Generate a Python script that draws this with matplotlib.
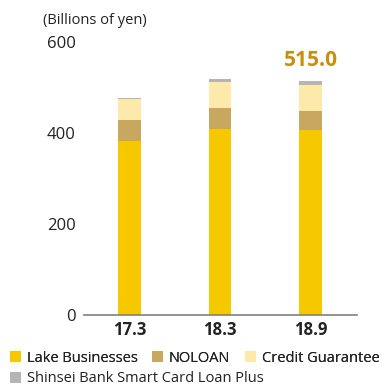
import matplotlib
matplotlib.use("Agg")

import matplotlib.pyplot as plt
import numpy as np

plt.rcParams["font.family"] = ["Open Sans", "DejaVu Sans"]

PERIODS = ["17.3", "18.3", "18.9"]

LAKE = [382, 408, 406]
NOLOAN = [46, 46, 43]
CREDIT = [46, 57, 57]
SHINSEI = [4, 7, 9]

SERIES = ["Lake Businesses", "NOLOAN", "Credit Guarantee",
          "Shinsei Bank Smart Card Loan Plus"]
COLORS = ["#F5C800", "#C8A85E", "#FDE9AA", "#B5B5B5"]

TOTAL_LABEL = "515.0"
Y_TICKS = [0, 200, 400, 600]


fig = plt.figure(figsize=(3.82, 3.85), dpi=100)
ax = fig.add_axes([84 / 382, 1 - 315 / 385, 273 / 382, 273 / 385])

x = np.arange(len(PERIODS))
bottom = np.zeros(len(PERIODS))
handles = []
for values, name, color in zip([LAKE, NOLOAN, CREDIT, SHINSEI], SERIES, COLORS):
    bars = ax.bar(x, values, width=0.254, bottom=bottom, color=color,
                  label=name, linewidth=0)
    handles.append(bars)
    bottom += np.array(values)

ax.text(x[-1], bottom[-1] + 21, TOTAL_LABEL, ha="center", va="bottom",
        fontsize=15, fontweight="bold", color="#C8900A")

ax.set_xlim(-0.503, 2.514)
ax.set_ylim(0, 600)
ax.set_yticks(Y_TICKS)
ax.set_yticklabels([str(v) for v in Y_TICKS], fontsize=12, color="#222222")
ax.set_xticks(x)
ax.set_xticklabels(PERIODS, fontsize=12, fontweight="bold", color="#222222")
ax.tick_params(length=0, axis="y", pad=6)
ax.tick_params(length=0, axis="x", pad=4)

for side in ["left", "right", "top"]:
    ax.spines[side].set_visible(False)
ax.spines["bottom"].set_color("#808080")
ax.spines["bottom"].set_linewidth(1.2)

fig.text(43 / 382, 1 - 20 / 385, "(Billions of yen)", fontsize=10.5,
         color="#222222", va="center", ha="left")

leg1 = fig.legend(handles[:3], SERIES[:3], loc="center left",
                  bbox_to_anchor=(10 / 382, 1 - 358 / 385), ncol=3, frameon=False,
                  fontsize=10.5, handlelength=0.75, handleheight=0.75,
                  handletextpad=0.4, columnspacing=1.0, borderaxespad=0,
                  borderpad=0, labelcolor="#222222")
fig.add_artist(leg1)
fig.legend(handles[3:], SERIES[3:], loc="center left",
           bbox_to_anchor=(10 / 382, 1 - 379 / 385), frameon=False,
           fontsize=10.5, handlelength=0.75, handleheight=0.75,
           handletextpad=0.4, borderaxespad=0, borderpad=0,
           labelcolor="#222222")

fig.savefig("out.png", dpi=100)
